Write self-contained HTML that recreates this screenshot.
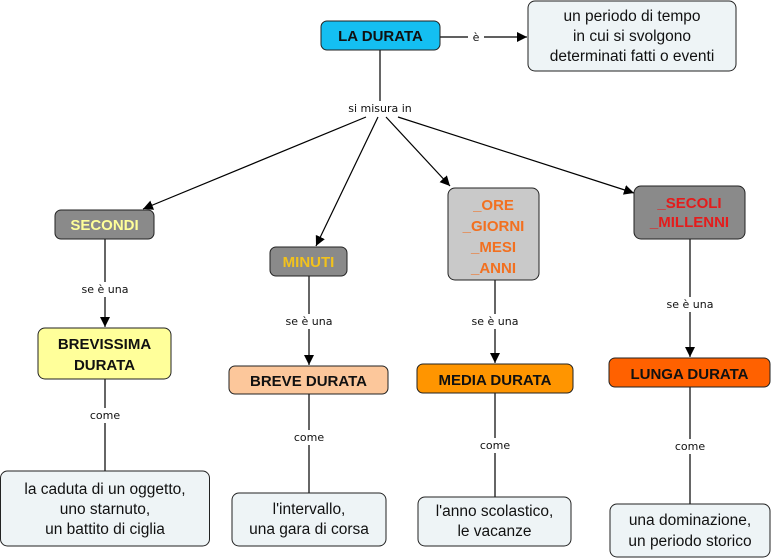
<!DOCTYPE html>
<html><head><meta charset="utf-8"><style>
html,body{margin:0;padding:0;background:#fff;width:773px;height:560px;overflow:hidden}
svg{display:block}
.b{font-family:"Liberation Sans",sans-serif;font-weight:bold;font-size:15px;text-anchor:middle}
.n{font-family:"Liberation Sans",sans-serif;font-size:15.5px;text-anchor:middle;fill:#111}
.l{font-family:"DejaVu Sans","Liberation Sans",sans-serif;font-size:11px;text-anchor:middle;fill:#111}
</style></head><body>
<svg width="773" height="560" viewBox="0 0 773 560" xmlns="http://www.w3.org/2000/svg">
<defs><marker id="a" viewBox="0 0 10 10" refX="10" refY="5" markerWidth="10" markerHeight="10" markerUnits="userSpaceOnUse" orient="auto"><path d="M0,0 L10,5 L0,10 z" fill="#000"/></marker></defs>
<g stroke="#000" stroke-width="1.2" fill="none">
<line x1="440" y1="37" x2="468" y2="37"/>
<line x1="484" y1="37" x2="527" y2="37" marker-end="url(#a)"/>
<line x1="380" y1="50" x2="380" y2="102"/>
<line x1="366" y1="117" x2="143" y2="209" marker-end="url(#a)"/>
<line x1="378" y1="117" x2="316" y2="246" marker-end="url(#a)"/>
<line x1="386" y1="117" x2="450" y2="186" marker-end="url(#a)"/>
<line x1="398" y1="117" x2="634" y2="193" marker-end="url(#a)"/>
<line x1="105" y1="239" x2="105" y2="282"/><line x1="105" y1="297" x2="105" y2="327" marker-end="url(#a)"/>
<line x1="309" y1="276" x2="309" y2="314"/><line x1="309" y1="329" x2="309" y2="365" marker-end="url(#a)"/>
<line x1="495" y1="280" x2="495" y2="314"/><line x1="495" y1="329" x2="495" y2="363" marker-end="url(#a)"/>
<line x1="690" y1="239" x2="690" y2="297"/><line x1="690" y1="312" x2="690" y2="357" marker-end="url(#a)"/>
<line x1="105" y1="379" x2="105" y2="471"/>
<line x1="309" y1="394" x2="309" y2="493"/>
<line x1="495" y1="393" x2="495" y2="497"/>
<line x1="690" y1="387" x2="690" y2="504"/>
</g>
<g stroke="#222" stroke-width="1">
<rect x="321" y="21" width="119" height="29" rx="6" fill="#14bff2"/>
<rect x="528" y="1" width="208" height="70" rx="7" fill="#eef4f6"/>
<rect x="55" y="210" width="99" height="29" rx="6" fill="#8a8a8a"/>
<rect x="270" y="247" width="77" height="29" rx="6" fill="#8a8a8a"/>
<rect x="448" y="188" width="91" height="92" rx="7" fill="#c9c9c9"/>
<rect x="634" y="186" width="111" height="53" rx="7" fill="#8a8a8a"/>
<rect x="38" y="328" width="133" height="51" rx="7" fill="#ffff9a"/>
<rect x="229" y="366" width="159" height="28" rx="6" fill="#fcc79b"/>
<rect x="417" y="364" width="156" height="29" rx="6" fill="#ff9500"/>
<rect x="609" y="358" width="161" height="29" rx="6" fill="#ff6100"/>
<rect x="0.5" y="471" width="209" height="75" rx="7" fill="#eef4f6"/>
<rect x="232" y="493" width="154" height="53" rx="7" fill="#eef4f6"/>
<rect x="418" y="497" width="153" height="49" rx="7" fill="#eef4f6"/>
<rect x="610" y="504" width="160" height="53" rx="7" fill="#eef4f6"/>
</g>
<text class="b" x="380.5" y="41" fill="#111">LA DURATA</text>
<text class="n" x="632" y="21">un periodo di tempo</text>
<text class="n" x="632" y="41">in cui si svolgono</text>
<text class="n" x="632" y="61">determinati fatti o eventi</text>
<rect x="468" y="30" width="16" height="14" fill="#fff"/><text class="l" x="476" y="41">è</text>
<rect x="333" y="101" width="94" height="15" fill="#fff"/><text class="l" x="380" y="112">si misura in</text>
<text class="b" x="104.5" y="230" fill="#ffff99">SECONDI</text>
<text class="b" x="308.5" y="267" fill="#f2c21c">MINUTI</text>
<text class="b" x="493.5" y="210" fill="#f27020">_ORE</text>
<text class="b" x="493.5" y="231" fill="#f27020">_GIORNI</text>
<text class="b" x="493.5" y="252" fill="#f27020">_MESI</text>
<text class="b" x="493.5" y="273" fill="#f27020">_ANNI</text>
<text class="b" x="689.5" y="208" fill="#e41c1c">_SECOLI</text>
<text class="b" x="689.5" y="227" fill="#e41c1c">_MILLENNI</text>
<rect x="75" y="282" width="60" height="15" fill="#fff"/><text class="l" x="105" y="293">se è una</text>
<rect x="279" y="314" width="60" height="15" fill="#fff"/><text class="l" x="309" y="325">se è una</text>
<rect x="465" y="314" width="60" height="15" fill="#fff"/><text class="l" x="495" y="325">se è una</text>
<rect x="660" y="297" width="60" height="15" fill="#fff"/><text class="l" x="690" y="308">se è una</text>
<text class="b" x="104.5" y="349" fill="#111">BREVISSIMA</text>
<text class="b" x="104.5" y="370" fill="#111">DURATA</text>
<text class="b" x="308.5" y="386" fill="#111">BREVE DURATA</text>
<text class="b" x="495" y="385" fill="#111">MEDIA DURATA</text>
<text class="b" x="689.5" y="379" fill="#111">LUNGA DURATA</text>
<rect x="85" y="408" width="40" height="15" fill="#fff"/><text class="l" x="105" y="419">come</text>
<rect x="289" y="430" width="40" height="15" fill="#fff"/><text class="l" x="309" y="441">come</text>
<rect x="475" y="438" width="40" height="15" fill="#fff"/><text class="l" x="495" y="449">come</text>
<rect x="670" y="439" width="40" height="15" fill="#fff"/><text class="l" x="690" y="450">come</text>
<text class="n" x="105" y="494">la caduta di un oggetto,</text>
<text class="n" x="105" y="514">uno starnuto,</text>
<text class="n" x="105" y="534">un battito di ciglia</text>
<text class="n" x="309" y="514">l'intervallo,</text>
<text class="n" x="309" y="534">una gara di corsa</text>
<text class="n" x="494.5" y="516">l'anno scolastico,</text>
<text class="n" x="494.5" y="536">le vacanze</text>
<text class="n" x="690" y="525">una dominazione,</text>
<text class="n" x="690" y="546">un periodo storico</text>
</svg>
</body></html>
